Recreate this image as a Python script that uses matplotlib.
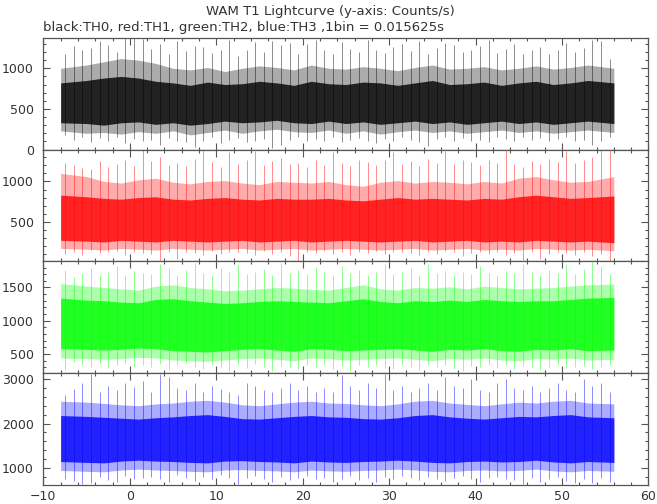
import numpy as np
import matplotlib.pyplot as plt
from matplotlib.ticker import MultipleLocator

# start time of the lightcurve (s); summary bins
t_start = -8.0

# per-second maximum / minimum of each band (counts/s)
th0_max = [1180, 1270, 1220, 1250, 1330, 1290, 1200, 1370, 1390, 1360,
           1240, 1300, 1180, 1340, 1210, 1280, 1260, 1190, 1230, 1350,
           1150, 1220, 1320, 1200, 1330, 1290, 1310, 1180, 1300, 1350,
           1220, 1170, 1320, 1240, 1200, 1350, 1230, 1190, 1260, 1300,
           1210, 1340, 1180, 1250, 1310, 1290, 1200, 1230, 1280, 1350,
           1190, 1240, 1300, 1170, 1220, 1260, 1180, 1230, 1310, 1200,
           1250, 1350, 1340, 1110]
th0_min = [180, 120, 150, 90, 140, 110, 160, 80, 130, 100,
           120, 60, 140, 100, 90, 30, 110, 150, 80, 120,
           140, 90, 110, 130, 20, 60, 120, 150, 100, 130,
           110, 160, 90, 120, 140, 100, 80, 130, 110, 150,
           120, 90, 40, 130, 150, 110, 140, 100, 120, 90,
           150, 130, 100, 160, 120, 140, 110, 130, 150, 100,
           120, 50, 110, 160]

th1_max = [1230, 1200, 1170, 1150, 1250, 1180, 1220, 1260, 1190, 1390,
           1250, 1300, 1200, 1230, 1190, 1280, 1390, 1240, 1180, 1370,
           1220, 1260, 1380, 1200, 1250, 1290, 1210, 1230, 1180, 1260,
           1200, 1360, 1230, 1190, 1270, 1240, 1200, 1260, 1370, 1220,
           1250, 1190, 1280, 1230, 1380, 1210, 1260, 1240, 1200, 1270,
           1230, 1390, 1220, 1180, 1250, 1210, 1280, 1240, 1380, 1230,
           1260, 1300, 1390, 1390]
th1_min = [100, 130, 90, 150, 110, 120, 140, 90, 130, 110,
           100, 30, 120, 40, 130, 110, 90, 140, 100, 120,
           130, 110, 90, 140, 100, 120, 80, 20, 130, 110,
           140, 100, 120, 90, 130, 110, 140, 100, 120, 130,
           110, 90, 130, 100, 140, 120, 80, 110, 130, 100,
           120, 90, 110, 30, 120, 40, 100, 130, 110, 90,
           120, 80, 100, 20]

th2_max = [1760, 1650, 1720, 1800, 1690, 1740, 1830, 1680, 1750, 1720,
           1700, 1860, 1800, 1690, 1760, 1870, 1720, 1680, 1790, 1740,
           1850, 1700, 1730, 1780, 1690, 1870, 1720, 1760, 1700, 1810,
           1740, 1680, 1830, 1720, 1770, 1690, 1740, 1860, 1700, 1730,
           1800, 1680, 1860, 1720, 1750, 1690, 1740, 1700, 1830, 1720,
           1680, 1750, 1710, 1860, 1730, 1690, 1770, 1720, 1860, 1700,
           1780, 1880, 1820, 1700]
th2_min = [260, 380, 330, 300, 350, 290, 330, 370, 310, 340,
           300, 350, 260, 330, 360, 310, 280, 340, 300, 250,
           330, 290, 350, 310, 240, 320, 300, 270, 340, 300,
           330, 280, 320, 250, 340, 300, 330, 290, 270, 340,
           310, 260, 330, 300, 340, 280, 250, 320, 300, 330,
           290, 340, 270, 320, 300, 260, 310, 340, 290, 300,
           320, 270, 300, 330]

th3_max = [2650, 2780, 2900, 3100, 2700, 2850, 2750, 2900, 2820, 2950,
           2700, 3120, 3050, 2800, 2750, 2900, 2700, 2850, 2780, 2700,
           2650, 2900, 2850, 2750, 2700, 2800, 2900, 2750, 2850, 2700,
           2800, 2700, 3080, 2850, 2750, 2900, 2800, 3120, 2750, 2850,
           2700, 2800, 2900, 2750, 3050, 2850, 2800, 3000, 2750, 2700,
           2900, 3000, 2800, 2750, 2850, 2700, 2800, 2900, 2750, 2700,
           3000, 2850, 2900, 2700]
th3_min = [760, 720, 650, 680, 800, 740, 700, 820, 760, 780,
           800, 760, 700, 840, 780, 720, 800, 760, 850, 790,
           640, 780, 820, 760, 700, 800, 740, 780, 820, 760,
           790, 700, 760, 820, 740, 780, 700, 800, 760, 820,
           780, 740, 800, 760, 720, 790, 820, 760, 700, 780,
           800, 760, 740, 640, 780, 700, 760, 800, 720, 660,
           760, 680, 780, 700]

# 2 s bins: light envelope (sparse lines) and dense core of each band
th0_env_hi = [1000, 1040, 1080, 1120, 1100, 1060, 1000, 980, 1010, 960, 1000, 1030,
              1010, 980, 1040, 1000, 990, 1020, 1000, 970, 1010, 1040, 990, 1000,
              1020, 980, 1000, 1030, 990, 1010, 1040, 1000]
th0_env_lo = [230, 200, 210, 190, 220, 200, 230, 180, 210, 240, 200, 230,
              250, 220, 210, 240, 200, 230, 190, 220, 240, 210, 230, 200,
              220, 240, 210, 230, 200, 220, 240, 210]
th0_core_hi = [820, 850, 880, 900, 880, 840, 820, 790, 830, 800, 810, 840,
               820, 790, 840, 810, 800, 830, 820, 790, 820, 850, 800, 810,
               830, 790, 820, 840, 800, 820, 850, 820]
th0_core_lo = [330, 320, 300, 330, 340, 310, 330, 300, 320, 350, 330, 340,
               360, 330, 320, 350, 320, 340, 310, 330, 350, 320, 340, 310,
               330, 350, 320, 340, 310, 330, 350, 320]

th1_env_hi = [1100, 1060, 1000, 980, 1020, 1040, 990, 970, 1000, 1010, 980, 960,
              1000, 990, 980, 1000, 960, 940, 990, 1010, 980, 1000, 990, 970,
              1000, 980, 1040, 1060, 1020, 990, 1000, 1060]
th1_env_lo = [170, 160, 150, 170, 160, 150, 170, 160, 150, 160, 170, 150,
              160, 170, 150, 160, 170, 160, 150, 160, 170, 150, 160, 170,
              150, 160, 150, 170, 160, 150, 160, 140]
th1_core_hi = [830, 810, 790, 780, 800, 810, 780, 770, 790, 800, 780, 770,
               790, 780, 780, 790, 770, 760, 780, 800, 780, 790, 780, 770,
               790, 780, 810, 830, 810, 790, 800, 820]
th1_core_lo = [270, 260, 250, 270, 260, 250, 270, 260, 250, 260, 270, 250,
               260, 270, 250, 260, 270, 260, 250, 260, 270, 250, 260, 270,
               250, 260, 250, 270, 260, 250, 260, 240]

th2_env_hi = [1560, 1520, 1500, 1480, 1460, 1520, 1540, 1500, 1480, 1450, 1460, 1480,
              1500, 1490, 1470, 1460, 1500, 1540, 1480, 1460, 1500, 1490, 1510, 1480,
              1520, 1500, 1480, 1490, 1500, 1520, 1540, 1550]
th2_env_lo = [440, 430, 420, 430, 450, 440, 410, 400, 390, 410, 430, 440,
              420, 400, 440, 430, 410, 420, 430, 440, 420, 400, 430, 420,
              440, 410, 400, 430, 420, 440, 410, 420]
th2_core_hi = [1340, 1310, 1300, 1280, 1270, 1320, 1330, 1300, 1280, 1260, 1270, 1290,
               1300, 1290, 1280, 1270, 1300, 1330, 1290, 1270, 1300, 1290, 1310, 1290,
               1320, 1300, 1290, 1300, 1300, 1320, 1340, 1350]
th2_core_lo = [580, 570, 560, 570, 590, 580, 550, 540, 530, 550, 570, 580,
               560, 540, 580, 570, 550, 560, 570, 580, 560, 540, 570, 560,
               580, 550, 540, 570, 560, 580, 550, 560]

th3_env_hi = [2500, 2480, 2450, 2420, 2400, 2440, 2460, 2500, 2520, 2480, 2420, 2400,
              2440, 2480, 2500, 2460, 2450, 2420, 2400, 2440, 2500, 2520, 2460, 2430,
              2400, 2440, 2480, 2460, 2500, 2520, 2460, 2440]
th3_env_lo = [950, 930, 920, 960, 980, 960, 950, 930, 920, 960, 970, 950,
              940, 920, 960, 940, 930, 950, 960, 980, 960, 930, 920, 950,
              960, 940, 950, 980, 940, 920, 950, 930]
th3_core_hi = [2180, 2160, 2140, 2120, 2100, 2130, 2150, 2180, 2200, 2160, 2110, 2100,
               2130, 2160, 2180, 2150, 2140, 2110, 2100, 2130, 2180, 2200, 2150, 2120,
               2100, 2130, 2160, 2150, 2180, 2200, 2150, 2130]
th3_core_lo = [1150, 1130, 1120, 1160, 1180, 1160, 1150, 1130, 1120, 1160, 1170, 1150,
               1140, 1120, 1160, 1140, 1130, 1150, 1160, 1180, 1160, 1130, 1120, 1150,
               1160, 1140, 1150, 1180, 1140, 1120, 1150, 1130]

colors = ['#000000', '#ff0000', '#00ff00', '#0000ff']
ylims = [(0, 1375), (10, 1395), (213, 1893), (628, 3130)]
ymajor = [500, 500, 500, 1000]
yminor = [100, 100, 100, 200]

bands = [
    (th0_max, th0_min, th0_env_hi, th0_env_lo, th0_core_hi, th0_core_lo),
    (th1_max, th1_min, th1_env_hi, th1_env_lo, th1_core_hi, th1_core_lo),
    (th2_max, th2_min, th2_env_hi, th2_env_lo, th2_core_hi, th2_core_lo),
    (th3_max, th3_min, th3_env_hi, th3_env_lo, th3_core_hi, th3_core_lo),
]

AX_COL = '#555555'
TXT_COL = '#333333'


def bin_x(n, width):
    # bin centres, with the outer points pinned to the start/end of the data
    x = t_start + width * (np.arange(n) + 0.5)
    x[0] = t_start
    x[-1] = t_start + width * n
    return x


def draw_band(ax, band, col):
    vmax, vmin, env_hi, env_lo, core_hi, core_lo = band
    # light envelope where the lines are sparse
    x = bin_x(len(env_hi), 2.0)
    ax.fill_between(x, env_lo, env_hi, color=col, alpha=0.33, lw=0)
    # single spikes, one per second
    tc = t_start + np.arange(len(vmax)) + 0.5
    ax.vlines(tc, vmin, vmax, color=col, alpha=0.45, lw=0.7)
    # dense core
    ax.fill_between(x, core_lo, core_hi, color=col, alpha=0.8, lw=0)


def make_plot():
    fig, axes = plt.subplots(4, 1, figsize=(6.57, 5.04), dpi=100, sharex=True)
    fig.subplots_adjust(left=0.066, right=0.987, top=0.925, bottom=0.038, hspace=0)

    for i, ax in enumerate(axes):
        draw_band(ax, bands[i], colors[i])
        ax.set_xlim(-10, 60)
        ax.set_ylim(*ylims[i])
        ax.xaxis.set_major_locator(MultipleLocator(10))
        ax.xaxis.set_minor_locator(MultipleLocator(2))
        ax.yaxis.set_major_locator(MultipleLocator(ymajor[i]))
        ax.yaxis.set_minor_locator(MultipleLocator(yminor[i]))
        ax.tick_params(which='both', direction='in', top=True, right=True,
                       color=AX_COL, labelcolor=TXT_COL, labelsize=9)
        ax.tick_params(which='major', length=5, width=0.8)
        ax.tick_params(which='minor', length=2.5, width=0.8)
        ax.tick_params(axis='y', pad=7)
        ax.tick_params(axis='x', pad=4)
        for s in ax.spines.values():
            s.set_color(AX_COL)
            s.set_linewidth(0.9)

    fig.text(0.503, 0.978, 'WAM T1 Lightcurve (y-axis: Counts/s)', ha='center', va='center',
             fontsize=9.5, color=TXT_COL)
    fig.text(0.066, 0.946, 'black:TH0, red:TH1, green:TH2, blue:TH3 ,1bin = 0.015625s',
             ha='left', va='center', fontsize=9.5, color=TXT_COL)

    fig.savefig('out.png', dpi=100)


if __name__ == '__main__':
    make_plot()
